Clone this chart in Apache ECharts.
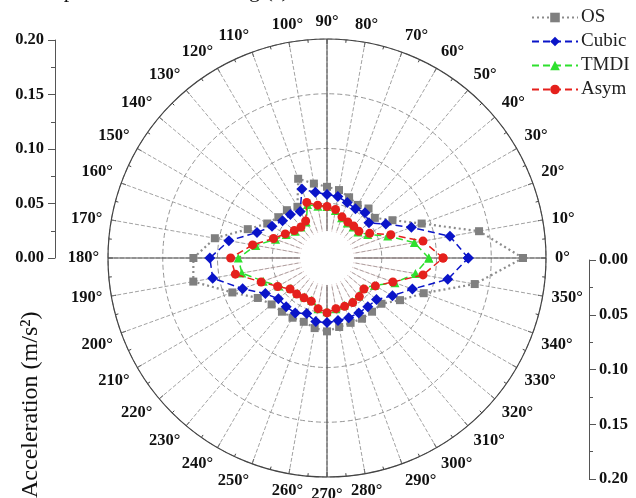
<!DOCTYPE html>
<html>
<head>
<meta charset="utf-8">
<script src="https://cdn.jsdelivr.net/npm/echarts@6/dist/echarts.min.js"></script>
<style>html,body{margin:0;padding:0;background:#fff;}#c{width:636px;height:498px;}</style>
</head>
<body>
<div id="c"></div>
<script>
// Heading angles (degrees)
const angles = [0,10,20,30,40,50,60,70,80,90,100,110,120,130,140,150,160,170,
                180,190,200,210,220,230,240,250,260,270,280,290,300,310,320,330,340,350];
// Acceleration (m/s^2) per angle
const osVals = [0.179,0.141,0.092,0.069,0.057,0.059,0.056,0.059,0.063,0.065,0.069,0.077,0.054,0.057,0.058,0.063,0.077,0.104,
                0.122,0.124,0.092,0.073,0.066,0.064,0.063,0.062,0.065,0.067,0.064,0.063,0.064,0.064,0.065,0.077,0.094,0.137];
const cubicVals = [0.129,0.114,0.082,0.062,0.050,0.054,0.052,0.054,0.057,0.058,0.061,0.067,0.049,0.052,0.053,0.058,0.068,0.091,
                   0.107,0.106,0.082,0.065,0.058,0.058,0.058,0.054,0.059,0.059,0.058,0.058,0.058,0.058,0.059,0.069,0.083,0.112];
const tmdiVals = [0.093,0.081,0.059,0.043,0.037,0.037,0.037,0.039,0.044,0.047,0.048,0.052,0.038,0.037,0.038,0.043,0.050,0.066,
                  0.081,0.079,0.062,0.051,0.043,0.042,0.041,0.041,0.047,0.049,0.047,0.046,0.046,0.045,0.043,0.050,0.066,0.082];
const asymVals = [0.106,0.089,0.062,0.045,0.038,0.038,0.038,0.040,0.045,0.047,0.049,0.054,0.039,0.037,0.039,0.044,0.052,0.069,
                  0.088,0.085,0.064,0.052,0.044,0.043,0.042,0.042,0.047,0.050,0.047,0.047,0.047,0.046,0.044,0.051,0.064,0.089];
const seriesNames = ['OS','Cubic','TMDI','Asym'];
const radiusTicks = [0, 0.05, 0.10, 0.15, 0.20];

const SERIF = '"Liberation Serif", "Times New Roman", serif';

function build(vals){
  const d = angles.map((a,i)=>[vals[i], a]);
  d.push([vals[0], 360]);
  return d;
}
function stems(vals, color){
  return {
    type:'custom', coordinateSystem:'polar', polarIndex:0, z:1, silent:true,
    data: angles.map((a,i)=>[vals[i], a]),
    renderItem:function(params, api){
      const r = api.value(0), a = api.value(1);
      const p0 = api.coord([0, a]);
      const p1 = api.coord([r, a]);
      return {type:'line', shape:{x1:p0[0],y1:p0[1],x2:p1[0],y2:p1[1]},
              style:{stroke:color, lineWidth:0.6}};
    }
  };
}

const chart = echarts.init(document.getElementById('c'), null, {renderer:'canvas'});
const axisFont = {fontFamily: SERIF, fontWeight:'bold', fontSize:16.5, color:'#111'};

chart.setOption({
  animation:false,
  backgroundColor:'#fff',
  graphic:[
    {type:'text', left:21, top:-20, z:10,
     style:{text:'Comparison of the heading (°)', font:'22px "Liberation Serif", serif', fill:'#111'}},
    {type:'text', z:10, x:31, y:498, rotation:Math.PI/2,
     style:{text:'Acceleration (m/s²)', font:'24px "Liberation Serif", serif', fill:'#111', textAlign:'left', textVerticalAlign:'middle'}},
    {type:'circle', z:1.5, shape:{cx:327, cy:258, r:27}, style:{fill:'#fff'}}
  ],
  legend:{
    orient:'vertical', left:526, top:3, itemGap:5, itemWidth:46, itemHeight:12,
    data: seriesNames,
    textStyle:{fontFamily:SERIF, fontSize:19, color:'#222', padding:[0,0,0,-2]}
  },
  polar:[
    {center:[327,258], radius:219},
    {center:[327,258], radius:219}
  ],
  angleAxis:[
    {polarIndex:0, type:'value', min:0, max:360, interval:10, startAngle:0, clockwise:false,
     axisLine:{show:true, lineStyle:{color:'#444', width:1.2}},
     axisTick:{show:true, inside:true, length:5, lineStyle:{color:'#444'}},
     minorTick:{show:true, splitNumber:2, length:3, lineStyle:{color:'#444'}},
     axisLabel:{margin:9, formatter:function(v){return v===360?'':v+'°';}, ...axisFont},
     splitLine:{show:true, lineStyle:{color:'#8a8a8a', width:0.8, type:[4,2]}}},
    {polarIndex:1, type:'value', min:0, max:360, interval:90, startAngle:0, clockwise:false,
     axisLine:{show:false}, axisTick:{show:false}, axisLabel:{show:false},
     splitLine:{show:true, lineStyle:{color:'#555', width:1.1, type:'solid'}}}
  ],
  radiusAxis:[
    {polarIndex:0, type:'value', min:radiusTicks[0], max:radiusTicks[4], interval:0.05,
     axisLine:{show:false}, axisTick:{show:false}, axisLabel:{show:false},
     splitLine:{show:true, lineStyle:{color:'#8a8a8a', width:0.9, type:[5,3]}}},
    {polarIndex:1, type:'value', min:0, max:0.2,
     axisLine:{show:false}, axisTick:{show:false}, axisLabel:{show:false}, splitLine:{show:false}}
  ],
  grid:[
    {left:55, top:40, width:1, height:218},
    {left:589, top:260, width:1, height:219}
  ],
  xAxis:[
    {gridIndex:0, type:'value', show:false},
    {gridIndex:1, type:'value', show:false}
  ],
  yAxis:[
    {gridIndex:0, type:'value', position:'left', min:0, max:0.2, interval:0.05,
     axisLine:{show:true, lineStyle:{color:'#555', width:1}},
     axisTick:{show:true, inside:false, length:7, lineStyle:{color:'#555'}},
     minorTick:{show:true, splitNumber:2, length:4, lineStyle:{color:'#555'}},
     axisLabel:{margin:11, formatter:function(v){return v.toFixed(2);}, ...axisFont},
     splitLine:{show:false}},
    {gridIndex:1, type:'value', position:'right', inverse:true, min:0, max:0.2, interval:0.05,
     axisLine:{show:true, lineStyle:{color:'#555', width:1}},
     axisTick:{show:true, length:7, lineStyle:{color:'#555'}},
     minorTick:{show:true, splitNumber:2, length:4, lineStyle:{color:'#555'}},
     axisLabel:{margin:9, formatter:function(v){return v.toFixed(2);}, ...axisFont},
     splitLine:{show:false}}
  ],
  series:[
    stems(osVals, 'rgba(170,170,170,0.3)'),
    stems(asymVals, 'rgba(230,150,150,0.35)'),
    {name:'OS', type:'line', coordinateSystem:'polar', polarIndex:0, z:3,
     data: build(osVals), symbol:'rect', symbolSize:8, showAllSymbol:true,
     itemStyle:{color:'#7f7f7f'}, lineStyle:{color:'#8c8c8c', width:2.2, type:[2,3]}},
    {name:'Cubic', type:'line', coordinateSystem:'polar', polarIndex:0, z:4,
     data: build(cubicVals), symbol:'diamond', symbolSize:11, showAllSymbol:true,
     itemStyle:{color:'#0a14c8'}, lineStyle:{color:'#0a14c8', width:1.5, type:[7,4]}},
    {name:'TMDI', type:'line', coordinateSystem:'polar', polarIndex:0, z:5,
     data: build(tmdiVals), symbol:'triangle', symbolSize:9, showAllSymbol:true,
     itemStyle:{color:'#2ee02e'}, lineStyle:{color:'#2ee02e', width:1.5, type:[7,4]}},
    {name:'Asym', type:'line', coordinateSystem:'polar', polarIndex:0, z:6,
     data: build(asymVals), symbol:'circle', symbolSize:9, showAllSymbol:true,
     itemStyle:{color:'#e5201c'}, lineStyle:{color:'#e5201c', width:1.5, type:[7,4]}}
  ]
});
</script>
</body>
</html>
